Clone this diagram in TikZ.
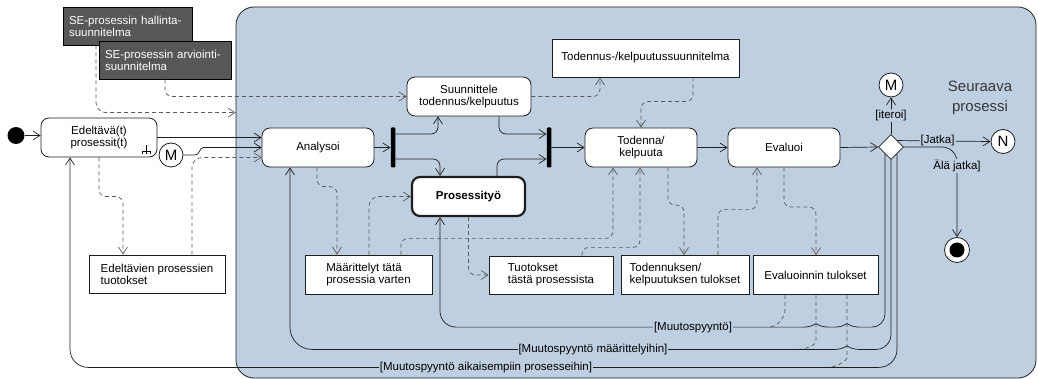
\documentclass[tikz,border=0pt]{standalone}
\usepackage{fontspec}
\setmainfont{Liberation Sans}
\usetikzlibrary{arrows.meta,shapes.geometric,calc}

\definecolor{panelblue}{RGB}{190,207,225}
\definecolor{darkbox}{RGB}{87,87,87}
\definecolor{flowgray}{RGB}{90,90,90}
\definecolor{linedark}{RGB}{30,30,30}

\begin{document}
\begin{tikzpicture}[x=1pt,y=-1pt,
  >={Straight Barb[length=7pt,width=9pt]},
  every node/.style={font=\fontsize{11.5}{12}\selectfont, inner sep=0pt},
  action/.style={draw=linedark, line width=0.8pt, fill=white, rounded corners=8pt, align=center},
  objbox/.style={draw=linedark, line width=0.8pt, fill=white, align=left},
  planbox/.style={draw=black, line width=0.8pt, fill=darkbox, text=white, align=left,
                  inner xsep=6pt, minimum height=38pt},
  forkbar/.style={fill=black, rounded corners=1pt, minimum width=4.5pt, minimum height=40pt},
  conn/.style={draw=linedark, line width=0.8pt, fill=white, circle, minimum size=24pt,
               font=\fontsize{15}{15}\selectfont},
  cflow/.style={draw=linedark, line width=0.7pt, rounded corners=7pt},
  ret/.style={draw=linedark, line width=0.7pt, rounded corners=18pt},
  oflow/.style={draw=flowgray, line width=0.7pt, dash pattern=on 4pt off 3pt, rounded corners=7pt},
  guard/.style={fill=panelblue, inner sep=1pt},
  cusp/.style={insert path={arc[start angle=90,end angle=122.6,radius=22.3]
                            arc[start angle=57.4,end angle=90,radius=22.3]}},
]
\useasboundingbox (0,0) rectangle (1038,379);

% ---- plans outside the process ----
\node[planbox, text width=117pt] (hall) at (127.5,26) {SE-prosessin hallinta-\\suunnitelma};
\node[planbox, text width=120pt] (arv) at (165,60) {SE-prosessin arviointi-\\suunnitelma};

% ---- the process region ----
\node[draw=linedark, line width=0.8pt, fill=panelblue, rounded corners=18pt,
      minimum width=800pt, minimum height=371pt] (panel) at (636,192.5) {};

% ---- actions ----
\node[circle, fill=black, minimum size=17pt] (ini) at (16,135.5) {};
\node[action, minimum width=116pt, minimum height=39pt] (edel) at (99,137.5) {Edeltävä(t)\\prosessit(t)};
\node[conn] (Mleft) at (171,155) {M};
\node[objbox, minimum width=136pt, minimum height=38pt] (edelt) at (157,274) {Edeltävien prosessien\\tuotokset};

\node[action, minimum width=112pt, minimum height=39pt] (anal) at (318,147.5) {Analysoi};
\node[action, minimum width=124pt, minimum height=39pt] (suun) at (469,96.5) {Suunnittele\\todennus/kelpuutus};
\node[objbox, minimum width=187pt, minimum height=38pt, align=center] (tkss) at (645.5,58) {Todennus-/kelpuutussuunnitelma};
\node[forkbar] (bar1) at (393,147.5) {};
\node[forkbar] (bar2) at (549,147.5) {};
\node[action, line width=2.2pt, minimum width=113pt, minimum height=39pt] (pros) at (468.5,196.5) {\textbf{Prosessityö}};
\node[action, minimum width=112pt, minimum height=39pt] (tod) at (641,147.5) {Todenna/\\kelpuuta};
\node[action, minimum width=112pt, minimum height=39pt] (eval) at (784,147.5) {Evaluoi};
\node[diamond, draw=linedark, line width=0.8pt, fill=white, minimum width=25pt, minimum height=25pt] (dec) at (891,147) {};
\node[conn] (Mtop) at (891,85) {M};
\node[conn] (N) at (1003,141.5) {N};
\node[circle, draw=linedark, line width=0.8pt, fill=white, minimum size=25pt] (fin) at (957,250) {};
\node[circle, fill=black, minimum size=15pt] (finin) at (fin) {};

\node[font=\fontsize{15}{20}\selectfont, text={rgb,255:red,55;green,55;blue,55}, align=center] (next) at (980,98) {Seuraava\\prosessi};

% ---- objects ----
\node[objbox, minimum width=127pt, minimum height=39pt] (maar) at (368.5,274.5) {Määrittelyt tätä\\prosessia varten};
\node[objbox, minimum width=124pt, minimum height=38pt] (tuot) at (551,275) {Tuotokset\\tästä prosessista};
\node[objbox, minimum width=128pt, minimum height=39pt] (tres) at (685,275) {Todennuksen/\\kelpuutuksen tulokset};
\node[objbox, minimum width=125pt, minimum height=39pt] (evres) at (815.5,275) {Evaluoinnin tulokset};

% call-behaviour rake on the previous processes
\draw[line width=0.7pt] ($(edel.south east)+(-11,-12)$) -- ++(0,6)
  ($(edel.south east)+(-15,-6)$) -- ++(8,0)
  ($(edel.south east)+(-15,-6)$) -- ++(0,3)
  ($(edel.south east)+(-11,-6)$) -- ++(0,3)
  ($(edel.south east)+(-7,-6)$) -- ++(0,3);

% ---- levels of the change-request loops ----
\coordinate (r1) at ($(pros.south)+(-28.5,110)$);
\coordinate (r2) at ($(anal.south)+(-28,182)$);
\coordinate (r3) at ($(edel.south)+(-29,210)$);
\coordinate (h1) at ($(evres.south |- r1)+(43.5,0)$);
\coordinate (h2) at ($(evres.south |- r1)+(12.5,0)$);
\coordinate (h3) at ($(evres.south |- r1)+(-11.5,0)$);
\coordinate (k1) at ($(evres.south |- r2)+(43.5,0)$);
\coordinate (k2) at ($(evres.south |- r2)+(19.5,0)$);
\coordinate (j1) at ($(evres.south |- r1)+(-47.5,0)$);
\coordinate (j2) at ($(evres.south |- r2)+(-17.5,0)$);
\coordinate (j3) at ($(evres.south |- r3)+(12.5,0)$);

% ---- object flows ----
\draw[oflow, ->] (edel.south) |- ($(edelt.north)+(-34,-58)$) -- ($(edelt.north)+(-34,0)$);
\draw[oflow, ->, rounded corners=10pt] ($(edelt.north)+(35,0)$) |- ($(anal.west)+(0,10)$);
\draw[oflow, ->, rounded corners=10pt] ($(hall.south)+(-31.5,0)$) |- ($(panel.north west)+(0,106)$);
\draw[oflow, ->] (arv.south) |- (suun.west);
\draw[oflow, ->] (suun.east) -| ($(tkss.south)+(-45.5,0)$);
\draw[oflow, ->] ($(tkss.south)+(47.5,0)$) |- ($(tod.north)+(0,-26)$) -- (tod.north);
\draw[oflow, ->] ($(anal.south)+(-1,0)$) |- ($(maar.north)+(-31.5,-68)$) -- ($(maar.north)+(-31.5,0)$);
\draw[oflow, ->, rounded corners=10pt] ($(maar.north)+(0.5,0)$) |- (pros.west);
\draw[oflow, ->] ($(maar.north)+(32.5,0)$) |- ($(tod.south)+(-28,71)$) -- ($(tod.south)+(-28,0)$);
\draw[oflow, ->] ($(tuot.north)+(31,0)$) |- ($(tod.south)+(-1,80)$) -- ($(tod.south)+(-1,0)$);
\draw[oflow, ->] (pros.south) |- (tuot.west);
\draw[oflow, ->] ($(tod.south)+(27,0)$) |- ($(tres.north)+(-1,-50)$) -- ($(tres.north)+(-1,0)$);
\draw[oflow, ->] ($(tres.north)+(33,0)$) |- ($(eval.south)+(-27,42)$) -- ($(eval.south)+(-27,0)$);
\draw[oflow, ->] (eval.south) |- ($(evres.north)+(0.5,-48)$) -- ($(evres.north)+(0.5,0)$);
\draw[oflow] ($(evres.south)+(-30.5,0)$) -- ++(0,8) .. controls +(0,14) and +(10,0) .. (j1);
\draw[oflow] ($(evres.south)+(0.5,0)$) -- ++(0,40) .. controls +(0,9) and +(9,0) .. (j2);
\draw[oflow] ($(evres.south)+(31.5,0)$) -- ++(0,56) .. controls +(0,9) and +(9,0) .. (j3);

% ---- control flows ----
\draw[cflow, ->] (ini) -- (edel.west |- ini);
\draw[cflow, ->] (edel.east) -- (anal.west |- edel.east);
\draw[cflow, ->, sharp corners] (Mleft.east) -- ++(12,0) to[out=0,in=180] ($(anal.west)+(-58,0)$) -- (anal.west);
\draw[cflow, ->] (anal.east) -- (bar1.west);
\draw[cflow, ->] ($(bar1.east)+(0,-13.5)$) -| ($(suun.south)+(-31,0)$);
\draw[cflow, ->] ($(bar1.east)+(0,11.5)$) -| ($(pros.north)+(-28.5,0)$);
\draw[cflow, ->] ($(suun.south)+(30,0)$) |- ($(bar2.west)+(0,-13.5)$);
\draw[cflow, ->] ($(pros.north)+(28.5,0)$) |- ($(bar2.west)+(0,11.5)$);
\draw[cflow, ->] (bar2.east) -- (tod.west);
\draw[cflow, ->] (tod.east) -- (eval.west);
\draw[cflow, ->] (eval.east) -- (dec.west);
\draw[cflow, ->] (dec.north) -- node[guard] (giter) {[iteroi]} (Mtop.south);
\draw[cflow, ->] (dec.north east) -- node[guard, pos=0.43] (gjatka) {[Jatka]} (N.west);
\draw[cflow, ->, rounded corners=15pt] (dec.east) -| node[guard, pos=0.605] (gstop) {Älä jatka]} (fin.north);

% change request back to the process work
\draw[ret, rounded corners=13pt] ($(dec.south)+(-6,-6)$) |- (h1);
\draw[ret, sharp corners] (h1) [cusp] -- (h2) [cusp];
\draw[ret, ->, rounded corners=16pt] (h3) -| ($(pros.south)+(-28.5,0)$);
% change request back to the definitions
\draw[ret, rounded corners=15pt] (dec.south) |- (k1);
\draw[ret, sharp corners] (k1) [cusp];
\draw[ret, ->, rounded corners=22pt] (k2) -| ($(anal.south)+(-28,0)$);
% change request back to earlier processes
\draw[ret, ->] ($(dec.south)+(6,-6)$) |- (r3) -- ($(edel.south)+(-29,0)$);

\node[guard] (g1) at ($(r1)+(253,0)$) {[Muutospyyntö]};
\node[guard] (g2) at ($(r2)+(303,0)$) {[Muutospyyntö määrittelyihin]};
\node[guard] (g3) at ($(r3)+(416,0)$) {[Muutospyyntö aikaisempiin prosesseihin]};
\end{tikzpicture}
\end{document}
